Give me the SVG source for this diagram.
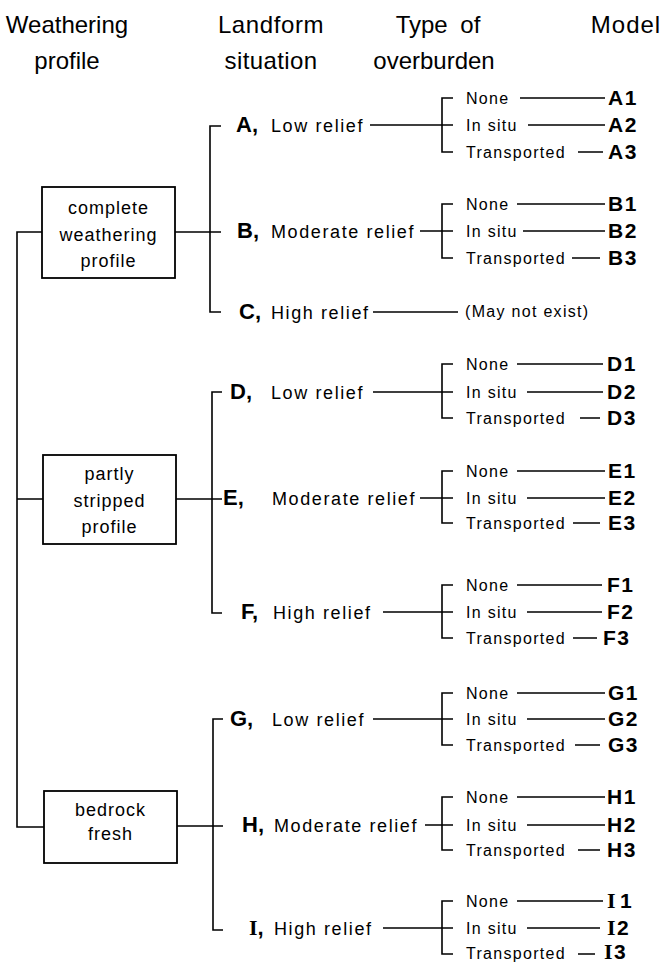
<svg xmlns="http://www.w3.org/2000/svg" width="670" height="963" viewBox="0 0 670 963">
<style>
text{font-family:"Liberation Sans",Arial,sans-serif;fill:#000}
.hd{font-size:24px;text-anchor:middle}
.bx{font-size:18px;letter-spacing:1px;text-anchor:middle}
.lb{font-size:18px;letter-spacing:1.6px}
.lt{font-size:22px;font-weight:bold;letter-spacing:0}
.sf{font-family:"Liberation Serif","Times New Roman",serif}
.ob{font-size:16px;letter-spacing:1.3px}
.md{font-size:21px;font-weight:bold;letter-spacing:1.5px}
.box{fill:#fff;stroke:#000;stroke-width:1.8}
#connectors path{fill:none;stroke:#000;stroke-width:1.6}
</style>
<rect width="670" height="963" fill="#fff"/>
<g id="header">
<text class="hd" x="67" y="33">Weathering</text>
<text class="hd" x="67" y="69">profile</text>
<text class="hd" x="271" y="33" letter-spacing="0.6">Landform</text>
<text class="hd" x="271" y="69" letter-spacing="0.4">situation</text>
<text class="hd" x="438" y="33" word-spacing="6">Type of</text>
<text class="hd" x="434" y="69">overburden</text>
<text class="hd" x="626" y="33" font-size="25" letter-spacing="1">Model</text>
</g>
<g id="connectors">
<path d="M42,232 H17 V827 H44 M17,499 H43"/>
<path d="M175,232 H221 M221,126 H210 V312 H221"/>
<path d="M176,499 H222 M222,392 H212 V613 H222"/>
<path d="M177,826 H223 M223,719 H213 V930 H223"/>
<path d="M370,125 H453 M453,98 H442 V152 H453"/>
<path d="M420,231 H453 M453,204 H442 V258 H453"/>
<path d="M373,312 H458"/>
<path d="M373,392 H453 M453,364 H442 V418 H453"/>
<path d="M420,498 H453 M453,471 H442 V523 H453"/>
<path d="M383,612 H453 M453,585 H442 V638 H453"/>
<path d="M373,719 H453 M453,693 H442 V745 H453"/>
<path d="M425,825 H453 M453,797 H442 V850 H453"/>
<path d="M383,928 H453 M453,901 H442 V954 H453"/>
<path d="M520,98 H605 M528,125 H605 M578,152 H603"/>
<path d="M517,204 H605 M523,231 H605 M572,258 H600"/>
<path d="M517,364 H603 M527,392 H603 M580,418 H600"/>
<path d="M517,471 H605 M527,498 H605 M573,523 H600"/>
<path d="M517,585 H602 M527,612 H602 M573,638 H597"/>
<path d="M517,693 H605 M527,719 H605 M575,745 H600"/>
<path d="M517,797 H605 M527,825 H605 M578,850 H600"/>
<path d="M517,901 H603 M527,928 H600 M578,954 H595"/>
</g>
<g id="complete">
<rect class="box" x="42" y="187" width="133" height="91"/>
<text class="bx" x="108.5" y="214">complete</text>
<text class="bx" x="108.5" y="241">weathering</text>
<text class="bx" x="108.5" y="267">profile</text>
</g>
<g id="partly">
<rect class="box" x="43" y="455" width="133" height="89"/>
<text class="bx" x="109.5" y="480">partly</text>
<text class="bx" x="109.5" y="507">stripped</text>
<text class="bx" x="109.5" y="533">profile</text>
</g>
<g id="bedrock">
<rect class="box" x="44" y="791" width="133" height="72"/>
<text class="bx" x="110.5" y="816">bedrock</text>
<text class="bx" x="110.5" y="840">fresh</text>
</g>
<g id="landA"><text class="lb" y="132"><tspan class="lt" x="236">A,</tspan><tspan x="271">Low relief</tspan></text></g>
<g id="landB"><text class="lb" y="238"><tspan class="lt" x="237">B,</tspan><tspan x="271">Moderate relief</tspan></text></g>
<g id="landC"><text class="lb" y="319"><tspan class="lt" x="239">C,</tspan><tspan x="271">High relief</tspan></text></g>
<g id="landD"><text class="lb" y="399"><tspan class="lt" x="230">D,</tspan><tspan x="271">Low relief</tspan></text></g>
<g id="landE"><text class="lb" y="505"><tspan class="lt" x="223">E,</tspan><tspan x="272">Moderate relief</tspan></text></g>
<g id="landF"><text class="lb" y="619"><tspan class="lt" x="241">F,</tspan><tspan x="273">High relief</tspan></text></g>
<g id="landG"><text class="lb" y="726"><tspan class="lt" x="230">G,</tspan><tspan x="272">Low relief</tspan></text></g>
<g id="landH"><text class="lb" y="832"><tspan class="lt" x="242">H,</tspan><tspan x="274">Moderate relief</tspan></text></g>
<g id="landI"><text class="lb" y="935"><tspan class="lt sf" x="249" font-size="24">I</tspan><tspan class="lt">,</tspan><tspan x="274">High relief</tspan></text></g>
<g id="overC"><text class="ob" x="465" y="317" font-size="14" letter-spacing="0.4">(May not exist)</text></g>
<g id="overA">
<text class="ob" x="466" y="104">None</text><text class="ob" x="466" y="131">In situ</text><text class="ob" x="466" y="158">Transported</text>
<text class="md" x="608" y="105">A1</text><text class="md" x="608" y="132">A2</text><text class="md" x="608" y="159">A3</text>
</g>
<g id="overB">
<text class="ob" x="466" y="210">None</text><text class="ob" x="466" y="237">In situ</text><text class="ob" x="466" y="264">Transported</text>
<text class="md" x="608" y="211">B1</text><text class="md" x="608" y="238">B2</text><text class="md" x="608" y="265">B3</text>
</g>
<g id="overD">
<text class="ob" x="466" y="370">None</text><text class="ob" x="466" y="398">In situ</text><text class="ob" x="466" y="424">Transported</text>
<text class="md" x="607" y="371">D1</text><text class="md" x="607" y="399">D2</text><text class="md" x="607" y="425">D3</text>
</g>
<g id="overE">
<text class="ob" x="466" y="477">None</text><text class="ob" x="466" y="504">In situ</text><text class="ob" x="466" y="529">Transported</text>
<text class="md" x="608" y="478">E1</text><text class="md" x="608" y="505">E2</text><text class="md" x="608" y="530">E3</text>
</g>
<g id="overF">
<text class="ob" x="466" y="591">None</text><text class="ob" x="466" y="618">In situ</text><text class="ob" x="466" y="644">Transported</text>
<text class="md" x="607" y="592">F1</text><text class="md" x="607" y="619">F2</text><text class="md" x="603" y="645">F3</text>
</g>
<g id="overG">
<text class="ob" x="466" y="699">None</text><text class="ob" x="466" y="725">In situ</text><text class="ob" x="466" y="751">Transported</text>
<text class="md" x="608" y="700">G1</text><text class="md" x="608" y="726">G2</text><text class="md" x="608" y="752">G3</text>
</g>
<g id="overH">
<text class="ob" x="466" y="803">None</text><text class="ob" x="466" y="831">In situ</text><text class="ob" x="466" y="856">Transported</text>
<text class="md" x="607" y="804">H1</text><text class="md" x="607" y="832">H2</text><text class="md" x="607" y="857">H3</text>
</g>
<g id="overI">
<text class="ob" x="466" y="907">None</text><text class="ob" x="466" y="934">In situ</text><text class="ob" x="466" y="959">Transported</text>
<text class="md sf" x="607" y="908"><tspan font-size="22">I</tspan><tspan font-family="Liberation Sans,sans-serif" dx="3">1</tspan></text>
<text class="md sf" x="607" y="935"><tspan font-size="22">I</tspan><tspan font-family="Liberation Sans,sans-serif">2</tspan></text>
<text class="md sf" x="604" y="959"><tspan font-size="22">I</tspan><tspan font-family="Liberation Sans,sans-serif">3</tspan></text>
</g>
</svg>
